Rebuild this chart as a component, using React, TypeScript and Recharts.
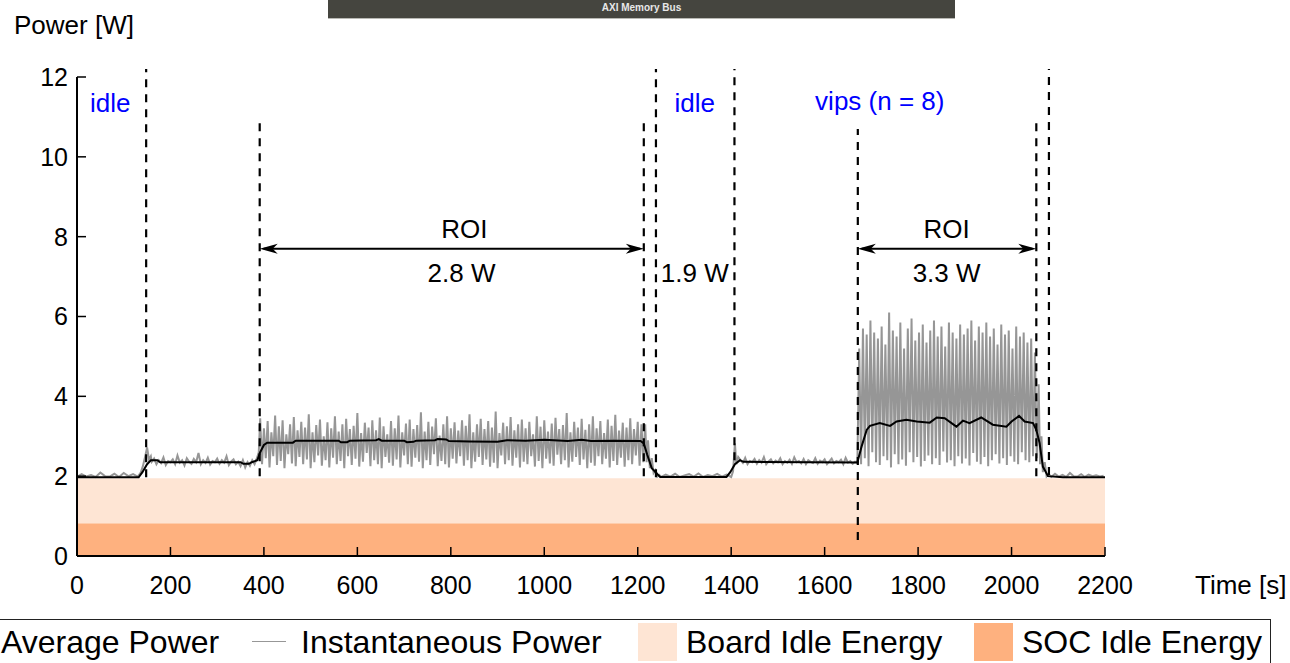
import { LineChart, Line, XAxis, YAxis, ReferenceArea, ReferenceLine, ReferenceDot } from "recharts";

const FONT = "'Liberation Sans', Arial, Helvetica, sans-serif";

const xTicks = [0, 200, 400, 600, 800, 1000, 1200, 1400, 1600, 1800, 2000, 2200];
const yTicks = [0, 2, 4, 6, 8, 10, 12];

// idle energy bands [W]
const socIdleTop = 0.82;
const boardIdleTop = 1.95;

// instantaneous power
const idle0Values = [1.98, 2.05, 1.99, 2.03, 1.98, 2.09, 2.0, 1.99, 2.06, 1.98, 2.08, 2.0, 2.05, 1.99]; // 0..130 / 10s
const rise1Times = [136, 141, 146, 150, 154, 158];
const rise1Values = [2.08, 2.25, 2.5, 2.72, 2.42, 2.5];
const plateau1Values = [
  2.36, 2.44, 2.3, 2.4, 2.33, 2.47, 2.28, 2.38, 2.35, 2.42,
  2.3, 2.52, 2.34, 2.4, 2.27, 2.45, 2.36, 2.31, 2.43, 2.35,
  2.58, 2.3, 2.4, 2.33, 2.46, 2.29, 2.38, 2.35, 2.44, 2.31,
  2.4, 2.34, 2.5, 2.28, 2.37, 2.42, 2.3, 2.36, 2.25, 2.4,
  2.22, 2.35, 2.26, 2.4, 2.3, 2.45,
]; // 160..385 / 5s
const rise2Times = [389];
const rise2Values = [2.6];
const roi1Peaks = [
  3.45, 3.2, 3.38, 3.1, 3.52, 3.25, 3.4, 3.05, 3.3, 3.48,
  3.15, 3.36, 3.22, 3.55, 3.1, 3.28, 3.42, 3.0, 3.35, 3.2,
  3.5, 3.12, 3.3, 3.44, 3.18, 3.26, 3.58, 3.08, 3.34, 3.22,
  3.4, 3.15, 3.47, 3.25, 3.05, 3.38, 3.2, 3.52, 3.1, 3.32,
  3.42, 3.18, 3.28, 3.6, 3.12, 3.36, 3.24, 3.45, 3.02, 3.3,
  3.5, 3.2, 3.35, 3.14, 3.4, 3.26, 3.55, 3.1, 3.3, 3.44,
  3.18, 3.38, 3.22, 3.62, 3.08, 3.34, 3.25, 3.48, 3.15, 3.3,
  3.42, 3.2, 3.36, 3.05, 3.5, 3.24, 3.4, 3.12, 3.32, 3.46,
  3.18, 3.28, 3.58, 3.1, 3.36, 3.22, 3.44, 3.16, 3.3, 3.5,
  3.2, 3.38, 3.08, 3.42, 3.26, 3.54, 3.14, 3.34, 3.22, 3.45,
  3.18, 3.36, 3.3,
];
const roi1Troughs = [
  2.3, 2.45, 2.22, 2.5, 2.28, 2.38, 2.2, 2.55, 2.32, 2.25,
  2.48, 2.3, 2.42, 2.2, 2.35, 2.52, 2.26, 2.4, 2.22, 2.46,
  2.3, 2.38, 2.2, 2.5, 2.28, 2.44, 2.24, 2.36, 2.58, 2.25,
  2.4, 2.3, 2.2, 2.48, 2.34, 2.26, 2.42, 2.22, 2.52, 2.3,
  2.24, 2.46, 2.36, 2.2, 2.4, 2.28, 2.55, 2.25, 2.38, 2.3,
  2.22, 2.44, 2.32, 2.5, 2.26, 2.4, 2.2, 2.36, 2.48, 2.28,
  2.42, 2.24, 2.34, 2.2, 2.52, 2.3, 2.4, 2.26, 2.46, 2.22,
  2.36, 2.3, 2.5, 2.24, 2.38, 2.2, 2.44, 2.32, 2.26, 2.54,
  2.3, 2.4, 2.22, 2.36, 2.48, 2.28, 2.42, 2.2, 2.34, 2.26,
  2.5, 2.3, 2.44, 2.22, 2.38, 2.28, 2.46, 2.24, 2.4, 2.3,
  2.52, 2.26, 2.35,
]; // ROI 1 from 392s, 4s per sample
const fall1Times = [1216, 1219, 1222, 1226, 1230, 1234, 1238, 1242, 1246];
const fall1Values = [3.3, 2.35, 2.9, 2.2, 2.45, 2.08, 2.15, 1.99, 2.03];
const idle1Values = [1.98, 2.04, 1.99, 2.06, 1.98, 2.02, 2.05, 1.99, 2.07, 1.98, 2.03, 2.0, 2.06, 1.99, 2.04, 1.98]; // 1250..1400 / 10s
const rise3Times = [1404, 1408, 1411, 1415];
const rise3Values = [2.12, 2.82, 2.3, 2.48];
const plateau2Values = [
  2.4, 2.33, 2.46, 2.3, 2.38, 2.35, 2.43, 2.31, 2.4, 2.34,
  2.48, 2.3, 2.37, 2.42, 2.32, 2.39, 2.35, 2.45, 2.3, 2.38,
  2.34, 2.41, 2.31, 2.47, 2.35, 2.38, 2.32, 2.43, 2.3, 2.4,
  2.36, 2.33, 2.45, 2.31, 2.39, 2.35, 2.42, 2.3, 2.37, 2.44,
  2.32, 2.38, 2.35, 2.41, 2.3, 2.46, 2.34, 2.38, 2.31, 2.36, 2.33,
]; // 1420..1670 / 5s
const roi2Peaks = [
  5.2, 5.7, 5.55, 5.9, 5.6, 5.45, 5.75, 5.3, 6.1, 5.65,
  5.5, 5.85, 5.2, 5.7, 5.95, 5.4, 5.6, 5.8, 5.35, 5.65,
  5.9, 5.5, 5.75, 5.25, 5.85, 5.6, 5.45, 5.8, 5.55, 5.7,
  5.9, 5.4, 5.75, 5.6, 5.85, 5.5, 5.7, 5.3, 5.8, 5.55,
  5.65, 5.2, 5.75, 5.5, 5.6, 5.35, 5.45, 5.1,
];
const roi2Troughs = [
  2.3, 2.45, 2.25, 2.6, 2.35, 2.28, 2.5, 2.4, 2.22, 2.55,
  2.3, 2.42, 2.26, 2.6, 2.35, 2.48, 2.24, 2.38, 2.52, 2.3,
  2.45, 2.28, 2.62, 2.34, 2.4, 2.25, 2.5, 2.32, 2.44, 2.27,
  2.58, 2.36, 2.3, 2.48, 2.25, 2.4, 2.55, 2.32, 2.45, 2.28,
  2.5, 2.36, 2.3, 2.6, 2.4, 2.35, 2.5, 2.45,
]; // ROI 2 from 1674s, 4s per sample
const fall2Times = [2058, 2061, 2064, 2067, 2071, 2075, 2079];
const fall2Values = [4.3, 2.3, 3.0, 2.1, 2.35, 2.0, 2.06];
const idle2Values = [1.98, 2.06, 1.99, 2.03, 1.98, 2.08, 2.0, 1.99, 2.05, 1.98, 2.04, 2.0, 2.02, 1.99, 2.01]; // 2085..2197 / 8s

// average power breakpoints
const avgTimes = [
  0, 132, 140, 150, 158, 172, 178, 350, 356, 368,
  374, 386, 392, 400, 407, 462, 468, 560, 565, 578,
  584, 640, 646, 652, 700, 706, 720, 726, 766, 772,
  790, 796, 840, 900, 920, 960, 1000, 1050, 1080, 1100,
  1150, 1206, 1213, 1220, 1230, 1248, 1390, 1398, 1408, 1419,
  1426, 1670, 1679, 1690, 1697, 1718, 1740, 1754, 1775, 1797,
  1825, 1840, 1857, 1882, 1896, 1910, 1935, 1960, 1989, 2000,
  2016, 2028, 2046, 2053, 2060, 2067, 2078, 2110, 2200,
];
const avgValues = [
  1.97, 1.97, 2.1, 2.3, 2.4, 2.4, 2.35, 2.35, 2.31, 2.31,
  2.35, 2.4, 2.6, 2.78, 2.84, 2.84, 2.89, 2.89, 2.85, 2.85,
  2.89, 2.9, 2.93, 2.89, 2.89, 2.85, 2.86, 2.89, 2.9, 2.93,
  2.92, 2.88, 2.87, 2.86, 2.9, 2.89, 2.91, 2.88, 2.91, 2.88,
  2.89, 2.88, 2.82, 2.55, 2.2, 1.98, 1.98, 2.1, 2.3, 2.4,
  2.36, 2.34, 2.74, 3.16, 3.26, 3.33, 3.26, 3.37, 3.41, 3.37,
  3.34, 3.47, 3.45, 3.24, 3.39, 3.33, 3.47, 3.29, 3.24, 3.37,
  3.51, 3.37, 3.33, 3.16, 2.83, 2.24, 2.0, 1.97, 1.97,
];

// dashed phase markers
const markerTimes = [148, 391, 1213, 1239, 1407, 1671, 2053, 2080];
const markerTops = [12.2, 10.9, 10.9, 12.2, 12.2, 10.7, 10.9, 12.2];
const markerBottoms = [1.97, 2.0, 2.0, 1.97, 2.4, 0.4, 2.0, 2.03];

// ROI arrows
const roiStarts = [391, 1671];
const roiEnds = [1213, 2053];
const roiLevel = 7.7;

// text annotations
const noteTexts = ["idle", "idle", "vips (n = 8)", "ROI", "2.8 W", "1.9 W", "ROI", "3.3 W"];
const noteTimes = [71, 1322, 1718, 829, 823, 1322, 1861, 1861];
const noteValues = [11.36, 11.36, 11.39, 8.2, 7.1, 7.1, 8.18, 7.1];
const noteColors = ["#0000ff", "#0000ff", "#0000ff", "#000", "#000", "#000", "#000", "#000"];

type Pt = { t: number; v: number };

const seq = (start: number, step: number, vals: number[]): Pt[] =>
  vals.map((v, i) => ({ t: start + i * step, v }));
const pairs = (ts: number[], vals: number[]): Pt[] => ts.map((t, i) => ({ t, v: vals[i] }));
const alternate = (start: number, step: number, hi: number[], lo: number[]): Pt[] => {
  const out: Pt[] = [];
  hi.forEach((h, i) => {
    out.push({ t: start + 2 * i * step, v: h });
    if (i < lo.length) out.push({ t: start + (2 * i + 1) * step, v: lo[i] });
  });
  return out;
};

const instData: Pt[] = [
  ...seq(0, 10, idle0Values),
  ...pairs(rise1Times, rise1Values),
  ...seq(160, 5, plateau1Values),
  ...pairs(rise2Times, rise2Values),
  ...alternate(392, 4, roi1Peaks, roi1Troughs),
  ...pairs(fall1Times, fall1Values),
  ...seq(1250, 10, idle1Values),
  ...pairs(rise3Times, rise3Values),
  ...seq(1420, 5, plateau2Values),
  ...alternate(1674, 4, roi2Peaks, roi2Troughs),
  ...pairs(fall2Times, fall2Values),
  ...seq(2085, 8, idle2Values),
];

const avgData: Pt[] = pairs(avgTimes, avgValues);

const ArrowLine = (p: any) => {
  const { x1, y1, x2 } = p;
  const y = y1;
  const left = Math.min(x1, x2);
  const right = Math.max(x1, x2);
  return (
    <g>
      <line x1={left + 4} y1={y} x2={right - 4} y2={y} stroke="#000" strokeWidth={2} />
      <path d={`M${left},${y} L${left + 18},${y - 5} L${left + 13},${y} L${left + 18},${y + 5} Z`} fill="#000" />
      <path d={`M${right},${y} L${right - 18},${y - 5} L${right - 13},${y} L${right - 18},${y + 5} Z`} fill="#000" />
    </g>
  );
};

const noteShape = (i: number) => (p: any) => (
  <text
    x={p.cx}
    y={p.cy}
    textAnchor="middle"
    dominantBaseline="central"
    fill={noteColors[i]}
    fontSize={26}
    fontFamily={FONT}
  >
    {noteTexts[i]}
  </text>
);

const axisTick = { fill: "#000", fontSize: 25, fontFamily: FONT };

export default function App() {
  return (
    <div style={{ position: "absolute", left: 0, top: 0, width: 1290, height: 663, overflow: "hidden", background: "#fff", fontFamily: FONT }}>
      <div
        style={{
          position: "absolute",
          left: 328,
          top: 0,
          width: 627,
          height: 18,
          background: "#45453f",
          borderBottom: "1px solid #b9b9b4",
          color: "#e8e8e8",
          fontSize: 10,
          fontWeight: "bold",
          textAlign: "center",
          lineHeight: "16px",
        }}
      >
        AXI Memory Bus
      </div>
      <div style={{ position: "absolute", left: 14, top: 11, fontSize: 26, lineHeight: "28px", color: "#000" }}>Power [W]</div>
      <div style={{ position: "absolute", left: 1195, top: 571, fontSize: 26, lineHeight: "28px", color: "#000" }}>Time [s]</div>

      <LineChart width={1290} height={663} margin={{ top: 77, right: 185, bottom: 67, left: 0 }}>
        <ReferenceArea x1={0} x2={2200} y1={0} y2={socIdleTop} fill="#feb17f" fillOpacity={1} stroke="none" />
        <ReferenceArea x1={0} x2={2200} y1={socIdleTop} y2={boardIdleTop} fill="#fee5d4" fillOpacity={1} stroke="none" />
        <XAxis
          type="number"
          dataKey="t"
          domain={[0, 2200]}
          ticks={xTicks}
          interval={0}
          height={40}
          tickSize={-9}
          tickMargin={29}
          tick={axisTick}
          axisLine={{ stroke: "#000", strokeWidth: 2 }}
          tickLine={{ stroke: "#000", strokeWidth: 1.5 }}
        />
        <YAxis
          type="number"
          dataKey="v"
          domain={[0, 12]}
          ticks={yTicks}
          interval={0}
          width={77}
          tickSize={-9}
          tickMargin={18}
          tick={axisTick}
          axisLine={{ stroke: "#000", strokeWidth: 2 }}
          tickLine={{ stroke: "#000", strokeWidth: 1.5 }}
        />
        <Line
          data={instData}
          dataKey="v"
          type="linear"
          stroke="#969696"
          strokeWidth={2}
          dot={false}
          activeDot={false}
          isAnimationActive={false}
        />
        <Line
          data={avgData}
          dataKey="v"
          type="linear"
          stroke="#000"
          strokeWidth={2}
          dot={false}
          activeDot={false}
          isAnimationActive={false}
        />
        {markerTimes.map((t, i) => (
          <ReferenceLine
            key={`m${i}`}
            segment={[
              { x: t, y: markerBottoms[i] },
              { x: t, y: markerTops[i] },
            ]}
            stroke="#000"
            strokeWidth={2.2}
            strokeDasharray="8 7"
            ifOverflow="visible"
          />
        ))}
        {roiStarts.map((t, i) => (
          <ReferenceLine
            key={`a${i}`}
            segment={[
              { x: t, y: roiLevel },
              { x: roiEnds[i], y: roiLevel },
            ]}
            shape={ArrowLine}
            ifOverflow="visible"
          />
        ))}
        {noteTexts.map((_, i) => (
          <ReferenceDot
            key={`n${i}`}
            x={noteTimes[i]}
            y={noteValues[i]}
            r={0}
            ifOverflow="visible"
            shape={noteShape(i)}
          />
        ))}
      </LineChart>

      <div
        style={{
          position: "absolute",
          left: -2,
          top: 619,
          width: 1273,
          height: 60,
          border: "1.5px solid #222",
          boxSizing: "border-box",
        }}
      />
      <div style={{ position: "absolute", top: 623, left: 0, width: 1290, height: 40, fontSize: 32, color: "#000" }}>
        <span style={{ position: "absolute", left: 1, top: 0, lineHeight: "38px", whiteSpace: "nowrap" }}>Average Power</span>
        <span style={{ position: "absolute", left: 252, top: 18, width: 34, height: 0, borderTop: "1.5px solid #979797" }} />
        <span style={{ position: "absolute", left: 301, top: 0, lineHeight: "38px", whiteSpace: "nowrap" }}>Instantaneous Power</span>
        <span style={{ position: "absolute", left: 638, top: 0, width: 39, height: 38, background: "#fee5d4" }} />
        <span style={{ position: "absolute", left: 686, top: 0, lineHeight: "38px", whiteSpace: "nowrap" }}>Board Idle Energy</span>
        <span style={{ position: "absolute", left: 974, top: 0, width: 39, height: 38, background: "#feb17f" }} />
        <span style={{ position: "absolute", left: 1022, top: 0, lineHeight: "38px", whiteSpace: "nowrap" }}>SOC Idle Energy</span>
      </div>
    </div>
  );
}
